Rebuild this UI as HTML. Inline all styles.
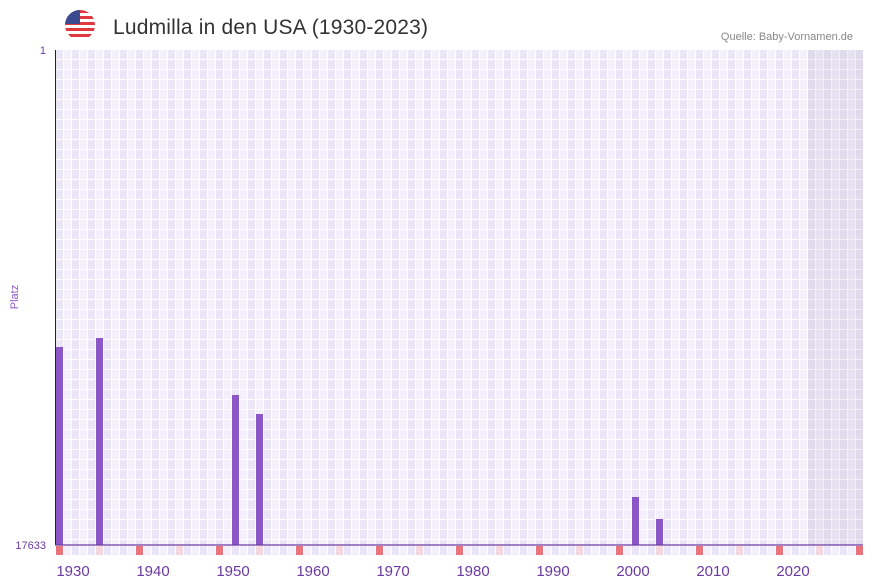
<!DOCTYPE html>
<html><head><meta charset="utf-8"><style>
body{margin:0;background:#fff;font-family:"Liberation Sans",sans-serif;}
</style></head><body>
<svg width="873" height="587" xmlns="http://www.w3.org/2000/svg" style="display:block">
<defs>
<pattern id="g" x="56" y="50" width="16" height="10" patternUnits="userSpaceOnUse">
<rect width="16" height="10" fill="#fff"/>
<rect x="0" y="0" width="7" height="9" fill="#ebe5f8"/>
<rect x="8" y="0" width="7" height="9" fill="#f3f0fb"/>
</pattern>
<pattern id="g2" x="56" y="50" width="16" height="10" patternUnits="userSpaceOnUse">
<rect width="16" height="10" fill="#f2f0f6"/>
<rect x="0" y="0" width="7" height="9" fill="#e0dbec"/>
<rect x="8" y="0" width="7" height="9" fill="#e6e2ef"/>
</pattern>
<pattern id="g3" x="56" y="545" width="16" height="10" patternUnits="userSpaceOnUse">
<rect width="16" height="10" fill="#fff"/>
<rect x="0" y="0" width="7" height="10" fill="#ebe5f8"/>
<rect x="8" y="0" width="7" height="10" fill="#f3f0fb"/>
</pattern>
</defs>
<rect x="56" y="50" width="752" height="495" fill="url(#g)"/>
<rect x="808" y="50" width="55" height="495" fill="url(#g2)"/>
<rect x="56" y="546" width="807" height="9" fill="url(#g3)"/>
<g fill="#8d56c6">
<rect x="56" y="347" width="7" height="198"/>
<rect x="96" y="338" width="7" height="207"/>
<rect x="232" y="395" width="7" height="150"/>
<rect x="256" y="414" width="7" height="131"/>
<rect x="632" y="497" width="7" height="48"/>
<rect x="656" y="519" width="7" height="26"/>
</g>
<g fill="#e8737a">
<rect x="56" y="546" width="7" height="9"/><rect x="136" y="546" width="7" height="9"/><rect x="216" y="546" width="7" height="9"/><rect x="296" y="546" width="7" height="9"/><rect x="376" y="546" width="7" height="9"/><rect x="456" y="546" width="7" height="9"/><rect x="536" y="546" width="7" height="9"/><rect x="616" y="546" width="7" height="9"/><rect x="696" y="546" width="7" height="9"/><rect x="776" y="546" width="7" height="9"/><rect x="856" y="546" width="7" height="9"/>
</g>
<g fill="#f5d7df">
<rect x="96" y="546" width="7" height="9"/><rect x="176" y="546" width="7" height="9"/><rect x="256" y="546" width="7" height="9"/><rect x="336" y="546" width="7" height="9"/><rect x="416" y="546" width="7" height="9"/><rect x="496" y="546" width="7" height="9"/><rect x="576" y="546" width="7" height="9"/><rect x="656" y="546" width="7" height="9"/><rect x="736" y="546" width="7" height="9"/><rect x="816" y="546" width="7" height="9"/>
</g>
<line x1="55.5" y1="50" x2="55.5" y2="545" stroke="#2a1a40" stroke-width="1"/>
<line x1="55" y1="545" x2="863" y2="545" stroke="#6a3aa0" stroke-width="1.3"/>
<g fill="#6a3aa0" font-size="11" text-anchor="end">
<text x="46" y="54">1</text>
<text x="46" y="549">17633</text>
</g>
<text x="18" y="297" fill="#8d56c6" font-size="11" text-anchor="middle" transform="rotate(-90 18 297)">Platz</text>
<g fill="#6a3aa0" font-size="15" text-anchor="middle">
<text x="73" y="576">1930</text><text x="153" y="576">1940</text><text x="233" y="576">1950</text><text x="313" y="576">1960</text><text x="393" y="576">1970</text><text x="473" y="576">1980</text><text x="553" y="576">1990</text><text x="633" y="576">2000</text><text x="713" y="576">2010</text><text x="793" y="576">2020</text>
</g>
<text x="113" y="34" fill="#333" font-size="21" textLength="315">Ludmilla in den USA (1930-2023)</text>
<text x="853" y="40" fill="#888" font-size="11" text-anchor="end">Quelle: Baby-Vornamen.de</text>
<clipPath id="c"><circle cx="80" cy="25" r="15"/></clipPath>
<g clip-path="url(#c)">
<rect x="65" y="10" width="30" height="30" fill="#fff"/>
<g fill="#e0383e">
<rect x="65" y="10" width="30" height="3"/><rect x="65" y="16" width="30" height="3"/><rect x="65" y="22" width="30" height="3"/><rect x="65" y="28" width="30" height="3"/><rect x="65" y="34" width="30" height="3"/>
</g>
<rect x="65" y="10" width="15" height="14" fill="#3b4a8f"/>
</g>
</svg>
</body></html>
